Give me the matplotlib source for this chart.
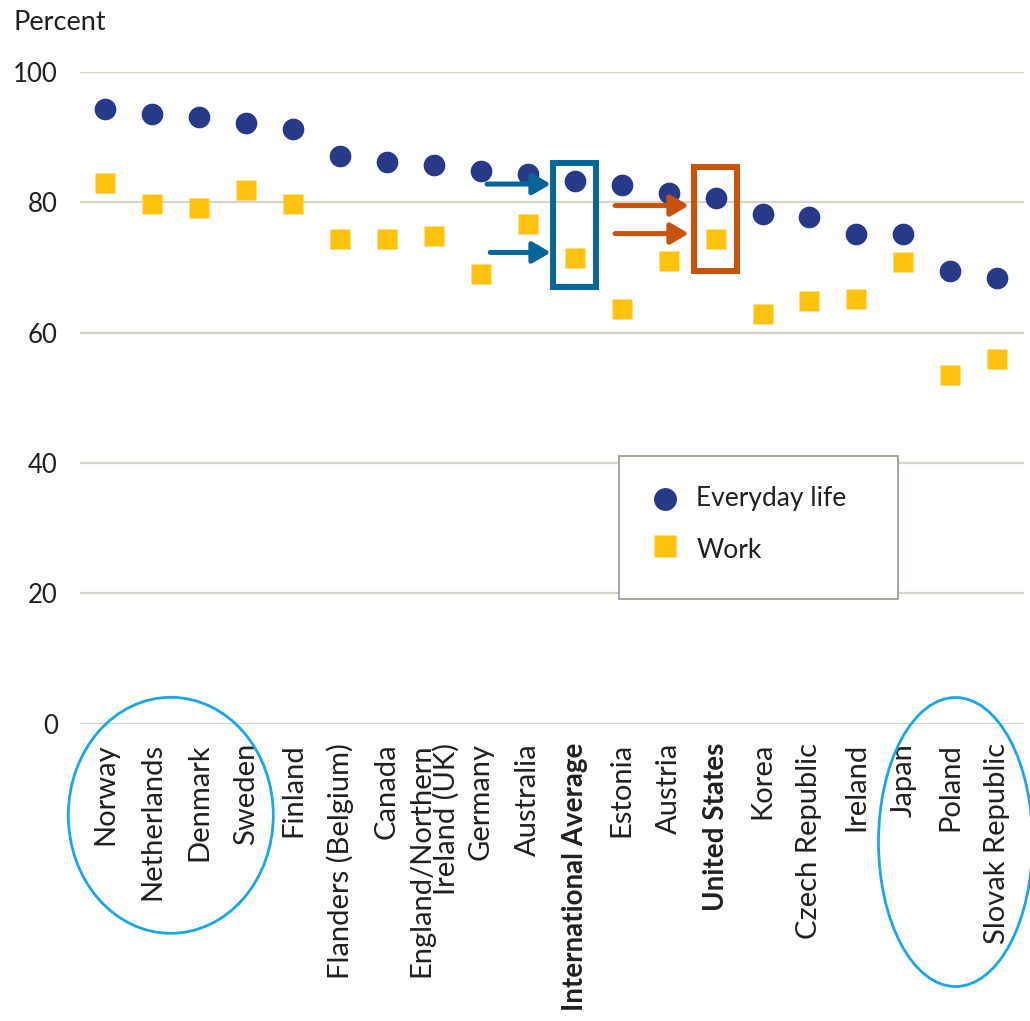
import matplotlib
matplotlib.use("Agg")
import matplotlib.pyplot as plt
from matplotlib.patches import Rectangle, Ellipse, FancyArrowPatch
from matplotlib.lines import Line2D

# ---- data -------------------------------------------------------------
countries = [
    "Norway", "Netherlands", "Denmark", "Sweden", "Finland",
    "Flanders (Belgium)", "Canada", "England/Northern\nIreland (UK)",
    "Germany", "Australia", "International Average", "Estonia", "Austria",
    "United States", "Korea", "Czech Republic", "Ireland", "Japan",
    "Poland", "Slovak Republic",
]
everyday_life = [94.3, 93.6, 93.1, 92.2, 91.2, 87.1, 86.2, 85.8, 84.8, 84.4,
                 83.2, 82.7, 81.5, 80.7, 78.2, 77.8, 75.2, 75.1, 69.5, 68.4]
work = [82.9, 79.8, 79.1, 81.9, 79.8, 74.3, 74.3, 74.9, 69.0, 76.6,
        71.4, 63.6, 71.0, 74.3, 62.9, 64.9, 65.2, 70.8, 53.5, 55.9]
y_ticks = [0, 20, 40, 60, 80, 100]
bold_labels = ["International Average", "United States"]

# ---- style ------------------------------------------------------------
FONT = "Lato"
TXT = "#231f20"
NAVY = "#283a87"
GOLD = "#ffc20f"
GRID = "#d9d4c9"
BLUE = "#06659b"
ORANGE = "#c8520c"
CYAN = "#19a6ec"

plt.rcParams["font.family"] = [FONT, "DejaVu Sans"]

W, H = 1030, 1021
fig = plt.figure(figsize=(W / 100, H / 100), dpi=100)


def fx(px):
    return px / W


def fy(py):
    return 1 - py / H


ax = fig.add_axes([fx(80), fy(723.5), fx(1024) - fx(80), fy(72) - fy(723.5)])
ax.set_xlim(-0.54, 19.57)
ax.set_ylim(0, 100)
for s in ax.spines.values():
    s.set_visible(False)

ax.set_yticks(y_ticks)
ax.set_yticklabels([str(v) for v in y_ticks])
ax.yaxis.grid(True, color=GRID, lw=1.6)
ax.set_axisbelow(True)
ax.tick_params(axis="y", length=0, pad=16, labelsize=18.5, labelcolor=TXT)

x = list(range(len(countries)))
ax.set_xticks(x)
ax.set_xticklabels(countries, rotation=90, va="top", ha="center",
                   multialignment="right", linespacing=0.93)
ax.tick_params(axis="x", length=0, pad=14, labelsize=21, labelcolor=TXT)
for lbl in ax.get_xticklabels():
    if lbl.get_text() in bold_labels:
        lbl.set_fontweight("bold")

# the long bold label must end above the bottom edge of the figure
fig.canvas.draw()
renderer = fig.canvas.get_renderer()
bold_max_px = 268
for lbl in ax.get_xticklabels():
    if lbl.get_text() == "International Average":
        length = lbl.get_window_extent(renderer).height
        if length > bold_max_px:
            scale = bold_max_px / length
            for other in ax.get_xticklabels():
                if other.get_text() in bold_labels:
                    other.set_fontsize(other.get_fontsize() * scale)

ax.plot(x, everyday_life, linestyle="none", marker="o", ms=15.6,
        mfc=NAVY, mec="none", clip_on=False, zorder=3)
ax.plot(x, work, linestyle="none", marker="s", ms=14.6,
        mfc=GOLD, mec="none", clip_on=False, zorder=3)

# ---- highlight boxes and arrows --------------------------------------
ia = countries.index("International Average")
us = countries.index("United States")
ax.add_patch(Rectangle((ia - 0.46, 67.0), 0.92, 19.0, fill=False,
                       ec=BLUE, lw=4.3, zorder=4, clip_on=False))
ax.add_patch(Rectangle((us - 0.47, 69.5), 0.93, 15.9, fill=False,
                       ec=ORANGE, lw=4.3, zorder=4, clip_on=False))

arrow_style = "-|>,head_length=0.72,head_width=0.42"
for (x0, x1, yy, col) in [(ia - 1.87, ia - 0.51, 82.8, BLUE),
                          (ia - 1.80, ia - 0.51, 72.3, BLUE),
                          (us - 2.14, us - 0.57, 79.5, ORANGE),
                          (us - 2.14, us - 0.57, 75.2, ORANGE)]:
    ax.add_patch(FancyArrowPatch((x0, yy), (x1, yy), arrowstyle=arrow_style,
                                 mutation_scale=15, color=col, lw=3.6,
                                 shrinkA=0, shrinkB=0, zorder=4,
                                 clip_on=False))

# ---- highlight ellipses over the category labels -----------------------
fig.add_artist(Ellipse((fx(170.8), fy(815.3)), fx(205), 236 / H,
                       transform=fig.transFigure, fill=False, ec=CYAN, lw=2))
fig.add_artist(Ellipse((fx(955.5), fy(842)), fx(154), 289 / H,
                       transform=fig.transFigure, fill=False, ec=CYAN, lw=2))

# ---- legend -------------------------------------------------------------
fig.add_artist(Rectangle((fx(619), fy(599)), fx(897.7) - fx(619),
                         fy(455.7) - fy(599), transform=fig.transFigure,
                         fc="white", ec="#a39e8f", lw=1.3, zorder=5))
fig.add_artist(Line2D([fx(665)], [fy(499.3)], transform=fig.transFigure,
                      marker="o", ms=16.5, mfc=NAVY, mec="none", zorder=6))
fig.add_artist(Line2D([fx(665)], [fy(546)], transform=fig.transFigure,
                      marker="s", ms=16, mfc=GOLD, mec="none", zorder=6))
fig.text(fx(696.5), fy(505.7), "Everyday life", fontsize=19, color=TXT,
         va="baseline", ha="left", zorder=6)
fig.text(fx(696.5), fy(558), "Work", fontsize=19, color=TXT,
         va="baseline", ha="left", zorder=6)

fig.text(fx(14), fy(29.5), "Percent", fontsize=19.5, color=TXT,
         va="baseline", ha="left")

fig.savefig("out.png", dpi=100, facecolor="white")
